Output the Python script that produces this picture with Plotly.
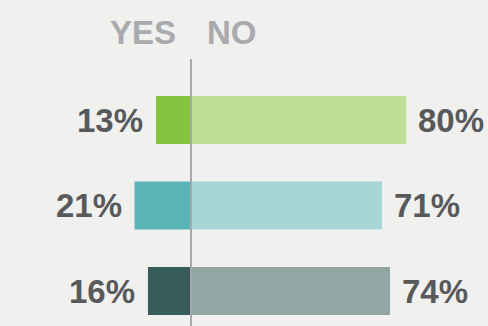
import plotly.graph_objects as go

categories = ["Group 1", "Group 2", "Group 3"]
yes_values = [13, 21, 16]
no_values = [80, 71, 74]
yes_colors = ["#86c43f", "#5ab3b7", "#365c5c"]
no_colors = ["#bde096", "#a6d6d8", "#92a7a4"]
header_labels = ["YES", "NO"]

W, H = 488, 326
x0_px = 191.0
px_per_unit = 2.69
y_first_px = 120.0
y_step_px = 85.5

idx = list(range(len(categories)))
text_color = "#58595b"
font_family = "Liberation Sans, Arial, sans-serif"

fig = go.Figure()
fig.add_trace(go.Bar(
    y=idx, x=[-v for v in yes_values], orientation="h",
    marker=dict(color=yes_colors, line=dict(width=0)),
    width=0.561, hoverinfo="skip", showlegend=False, base=0,
))
fig.add_trace(go.Bar(
    y=idx, x=no_values, orientation="h",
    marker=dict(color=no_colors, line=dict(width=0)),
    width=0.561, hoverinfo="skip", showlegend=False, base=0,
))

annotations = []
for i, (yv, nv) in enumerate(zip(yes_values, no_values)):
    annotations.append(dict(
        x=-yv, y=i, xref="x", yref="y", text=f"{yv}%", showarrow=False,
        xanchor="right", yanchor="middle", xshift=-11,
        font=dict(family=font_family, size=33, color=text_color, weight="bold"),
    ))
    annotations.append(dict(
        x=nv, y=i, xref="x", yref="y", text=f"{nv}%", showarrow=False,
        xanchor="left", yanchor="middle", xshift=10,
        font=dict(family=font_family, size=33, color=text_color, weight="bold"),
    ))

annotations.append(dict(
    x=0, y=1 - 33 / H, xref="x", yref="paper", text=header_labels[0], showarrow=False,
    xanchor="right", yanchor="middle", xshift=-13,
    font=dict(family=font_family, size=33, color="#a9aaad", weight="bold"),
))
annotations.append(dict(
    x=0, y=1 - 33 / H, xref="x", yref="paper", text=header_labels[1], showarrow=False,
    xanchor="left", yanchor="middle", xshift=14,
    font=dict(family=font_family, size=33, color="#a9aaad", weight="bold"),
))

x_left = -x0_px / px_per_unit
x_right = (W - x0_px) / px_per_unit
y_top = 0 - y_first_px / y_step_px
y_bottom = 0 + (H - y_first_px) / y_step_px

fig.update_layout(
    width=W, height=H,
    margin=dict(l=0, r=0, t=0, b=0),
    paper_bgcolor="#f0f0ef", plot_bgcolor="#f0f0ef",
    barmode="overlay",
    xaxis=dict(range=[x_left, x_right], visible=False, fixedrange=True),
    yaxis=dict(range=[y_bottom, y_top], visible=False, fixedrange=True),
    annotations=annotations,
    shapes=[dict(type="line", xref="x", yref="paper", x0=0, x1=0,
                 y0=0, y1=1 - 59 / H, line=dict(color="#a9a9ad", width=2), layer="above")],
)

fig.write_html("out.html", config={"displayModeBar": False})
